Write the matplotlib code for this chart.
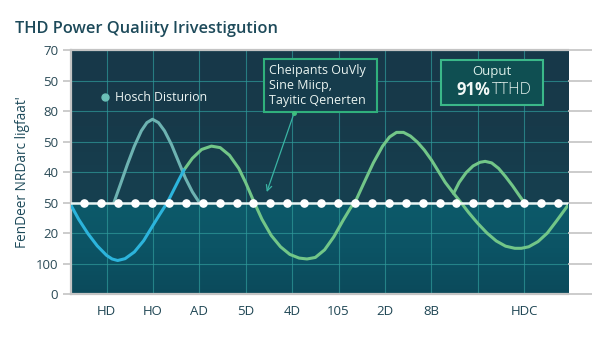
import numpy as np
import matplotlib
matplotlib.use("Agg")
import matplotlib.pyplot as plt
from matplotlib.patches import Rectangle
from matplotlib.colors import LinearSegmentedColormap

plt.rcParams['font.family'] = ['Open Sans', 'DejaVu Sans']

# ---- data ----
x_labels = ["HD", "HO", "AD", "5D", "4D", "105", "2D", "8B", "", "HDC"]
y_labels = ["0", "100", "20", "50", "40", "50", "80", "50", "70"]
threshold = 3.0  # the "50" reference level

blue_x = [-0.78, -0.6, -0.4, -0.2, 0.0, 0.12, 0.24, 0.4, 0.6, 0.8, 1.0, 1.15, 1.31, 1.45, 1.57, 1.67]
blue_y = [2.95, 2.45, 1.98, 1.58, 1.27, 1.15, 1.10, 1.16, 1.38, 1.75, 2.25, 2.62, 3.0, 3.42, 3.78, 4.07]

hump_x = [0.16, 0.3, 0.45, 0.6, 0.75, 0.87, 0.99, 1.12, 1.25, 1.4, 1.55, 1.7, 1.85, 2.0]
hump_y = [3.0, 3.6, 4.25, 4.85, 5.35, 5.62, 5.73, 5.62, 5.35, 4.9, 4.35, 3.8, 3.35, 3.0]

wave_x = [1.67, 1.85, 2.05, 2.26, 2.45, 2.65, 2.85, 3.0, 3.17, 3.35, 3.55, 3.75, 3.95, 4.15,
          4.32, 4.5, 4.7, 4.9, 5.1, 5.25, 5.39, 5.55, 5.75, 5.95, 6.1, 6.25, 6.4, 6.55, 6.7,
          6.85, 7.0, 7.15, 7.3, 7.48, 7.65, 7.8, 8.0, 8.2, 8.4, 8.6, 8.8, 8.94, 9.1, 9.3, 9.5,
          9.7, 9.95]
wave_y = [4.07, 4.45, 4.74, 4.85, 4.8, 4.55, 4.12, 3.65, 3.05, 2.45, 1.92, 1.55, 1.3, 1.18,
          1.15, 1.2, 1.45, 1.88, 2.42, 2.8, 3.12, 3.65, 4.3, 4.85, 5.15, 5.3, 5.3, 5.18, 4.98,
          4.72, 4.4, 4.03, 3.66, 3.3, 2.98, 2.68, 2.32, 2.0, 1.74, 1.57, 1.5, 1.5, 1.55, 1.72, 2.0,
          2.4, 2.92]

bump_x = [7.48, 7.6, 7.75, 7.9, 8.05, 8.16, 8.3, 8.45, 8.6, 8.75, 8.9, 8.98]
bump_y = [3.3, 3.66, 3.98, 4.2, 4.32, 4.35, 4.3, 4.12, 3.85, 3.55, 3.22, 3.05]

# ---- figure ----
fig = plt.figure(figsize=(6.0, 3.38), dpi=100)
ax = fig.add_axes([0.118, 0.130, 0.829, 0.722])
ax.set_xlim(-0.77, 9.95)
ax.set_ylim(0, 8)

# two-tone gradient background split at the reference level
split = threshold / 8.0
top_cmap = LinearSegmentedColormap.from_list("top", ["#164050", "#173a4a", "#183849"])
bot_cmap = LinearSegmentedColormap.from_list("bot", ["#0b4a5b", "#0c5465", "#0d5a6a"])
grad = np.linspace(0, 1, 256).reshape(-1, 1)
ax.imshow(grad, cmap=top_cmap, aspect="auto", extent=[0, 1, split, 1],
          transform=ax.transAxes, origin="lower", zorder=0)
ax.imshow(grad, cmap=bot_cmap, aspect="auto", extent=[0, 1, 0, split],
          transform=ax.transAxes, origin="lower", zorder=0)

ax.set_xticks(range(len(x_labels)))
ax.set_xticklabels(x_labels)
ax.set_yticks(range(len(y_labels)))
ax.set_yticklabels(y_labels)
ax.grid(True, color="#2f9a9a", lw=0.8, alpha=0.7, zorder=1)
ax.set_axisbelow(True)

ax.tick_params(axis="x", length=0, pad=8, labelsize=9.5, labelcolor="#1f4654")
ax.tick_params(axis="y", length=6, width=1.2, color="#c4c4c4", pad=3,
               labelsize=9.5, labelcolor="#2a4a56", right=True)
for t in ax.yaxis.get_major_ticks():
    t.tick2line.set_markersize(17)

for side in ("left", "top", "bottom"):
    ax.spines[side].set_color("#c4c4c4")
    ax.spines[side].set_linewidth(1.6)
ax.spines["right"].set_visible(False)

# curves
ax.plot(hump_x, hump_y, color="#6db3b2", lw=2.2, zorder=3, solid_capstyle="round")
ax.plot(wave_x, wave_y, color="#72c688", lw=2.2, zorder=3, solid_capstyle="round")
ax.plot(bump_x, bump_y, color="#72c688", lw=2.2, zorder=3, solid_capstyle="round")
ax.plot(blue_x, blue_y, color="#2cb4dc", lw=2.2, zorder=4, solid_capstyle="round")

# dotted reference level
ax.axhline(threshold, color="#eaf4f2", lw=1.8, zorder=5)
dot_x = np.linspace(-0.48, 9.73, 29)
ax.plot(dot_x, np.full_like(dot_x, threshold), "o", color="white", ms=5.2, zorder=6)

# legend-style note
ax.plot([0.068], [0.807], "o", color="#6cc0b8", ms=5, transform=ax.transAxes, zorder=7)
ax.text(0.088, 0.807, "Hosch Disturion", transform=ax.transAxes, color="#eef6f4",
        fontsize=8.8, va="center", ha="left", zorder=7)

# callout box with arrow
ax.add_patch(Rectangle((0.388, 0.746), 0.228, 0.217, transform=ax.transAxes,
                       facecolor="#163c4c", edgecolor="#30b07c", lw=1.5, zorder=7))
for yy, line in zip([0.918, 0.855, 0.793],
                    ["Cheipants OuVly", "Sine Miicp,", "Tayitic Qenerten"]):
    ax.text(0.398, yy, line, transform=ax.transAxes, color="#eaf4f1", fontsize=9,
            va="center", ha="left", zorder=8)
ax.annotate("", xy=(0.394, 0.418), xytext=(0.449, 0.742),
            xycoords="axes fraction", textcoords="axes fraction",
            arrowprops=dict(arrowstyle="->", color="#3ab4a4", lw=0.9,
                            mutation_scale=10, shrinkA=0, shrinkB=0), zorder=8)
ax.plot([0.449], [0.742], "o", color="#3fbf7f", ms=2.5, transform=ax.transAxes, zorder=9)

# output summary box
ax.add_patch(Rectangle((0.744, 0.775), 0.206, 0.184, transform=ax.transAxes,
                       facecolor="#0f4f52", edgecolor="#3bb889", lw=1.5, zorder=7))
ax.text(0.847, 0.912, "Ouput", transform=ax.transAxes, color="#dcefe9", fontsize=9.5,
        ha="center", va="center", zorder=8)
ax.text(0.843, 0.835, "91%", transform=ax.transAxes, color="#f2f8f6", fontsize=12,
        fontweight="bold", ha="right", va="center", zorder=8)
ax.text(0.846, 0.835, "TTHD", transform=ax.transAxes, color="#e6f2ee", fontsize=11.5,
        fontweight="light", ha="left", va="center", zorder=8)

# titles
fig.text(0.025, 0.915, "THD Power Qualiity Irivestigution", color="#1d4a5a",
         fontsize=11.8, fontweight="semibold", ha="left", va="center")
fig.text(0.037, 0.49, "FenDeer NRDarc ligfaat'", color="#1d4a5a", fontsize=9.8,
         fontweight="medium", rotation=90, ha="center", va="center")

fig.savefig("out.png", dpi=100)
